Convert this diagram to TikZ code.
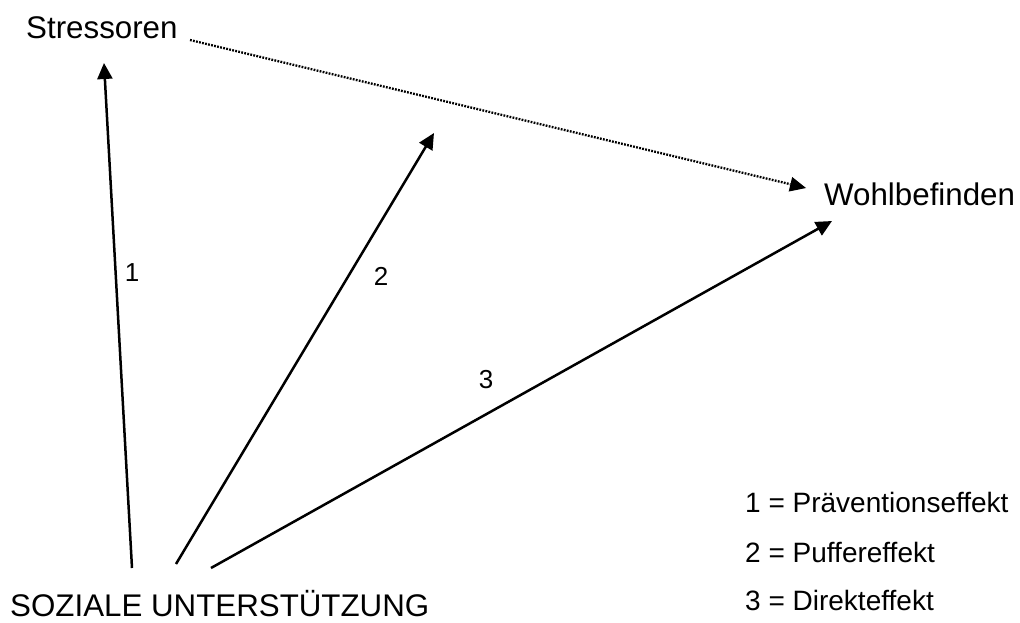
\documentclass[tikz,border=0pt]{standalone}
\usepackage{fontspec}
\setmainfont{Liberation Sans}
\usetikzlibrary{arrows.meta}
\begin{document}
\begin{tikzpicture}[x=1pt,y=-1pt,
  lbl/.style={inner sep=0pt, anchor=base west, font=\fontsize{31.3}{36}\selectfont},
  num/.style={inner sep=0pt, font=\fontsize{26}{30}\selectfont},
  leg/.style={inner sep=0pt, anchor=base west, font=\fontsize{28}{32}\selectfont},
  arr/.style={line width=2.5pt, -{Triangle[length=16pt,width=15pt]}},
  dotarr/.style={line width=2.3pt, dash pattern=on 1.8pt off 1.3pt, -{Triangle[length=16pt,width=15pt,line width=0pt]}}]
\useasboundingbox (0,0) rectangle (1020,622);
\node[lbl] (stress) at (26,38) {Stressoren};
\node[lbl] (wohl) at (824,205) {Wohlbefinden};
\node[lbl] (soz) at (10,616) {SOZIALE UNTERSTÜTZUNG};
% arrow endpoints
\coordinate (a1s) at (132,568);
\coordinate (a1e) at (104,63);
\coordinate (a2s) at (176,564);
\coordinate (a2e) at (434,133);
\coordinate (a3s) at (211,568);
\coordinate (a3e) at (832,221);
\coordinate (ds) at (190,40);
\coordinate (de) at (806,188);
\draw[arr] (a1s) -- (a1e);
\draw[arr] (a2s) -- (a2e);
\draw[arr] (a3s) -- (a3e);
\draw[dotarr] (ds) -- (de);
\node[num] (n1) at (132,273) {1};
\node[num] (n2) at (381,276) {2};
\node[num] (n3) at (486,380) {3};
\node[leg] (l1) at (745,512) {1 = Präventionseffekt};
\node[leg] (l2) at (745,562) {2 = Puffereffekt};
\node[leg] (l3) at (745,610) {3 = Direkteffekt};
\end{tikzpicture}
\end{document}
